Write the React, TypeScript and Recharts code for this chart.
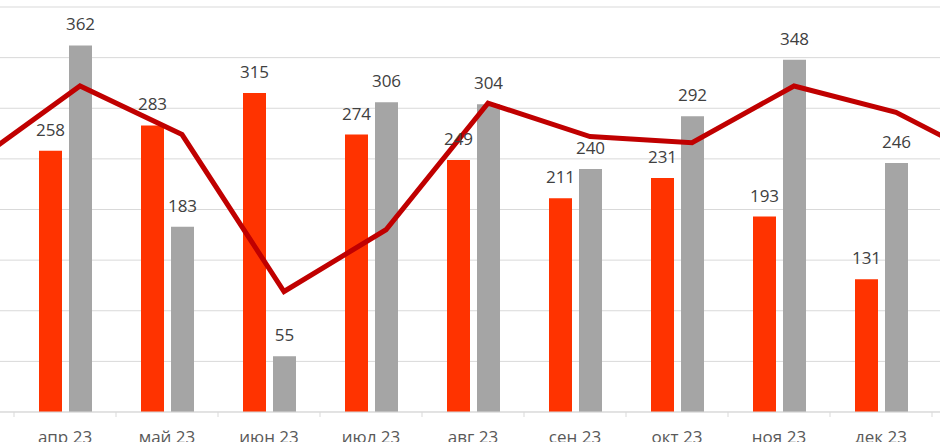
import React from "react";
import { ComposedChart, Bar, Line, XAxis, YAxis, CartesianGrid, LabelList } from "recharts";

// мар 23 и янв 24 выходят за края кадра, видна только линия
const months = ["мар 23", "апр 23", "май 23", "июн 23", "июл 23", "авг 23", "сен 23", "окт 23", "ноя 23", "дек 23", "янв 24"];
const redValues = [null, 258, 283, 315, 274, 249, 211, 231, 193, 131, null];
const grayValues = [null, 362, 183, 55, 306, 304, 240, 292, 348, 246, null];
const lineValues = [249, 322, 274, 119, 180, 305, 272, 266, 322, 296, 244];
const yTicks = [0, 50, 100, 150, 200, 250, 300, 350, 400];

const data = months.map((m, i) => ({
  month: m,
  red: redValues[i],
  gray: grayValues[i],
  trend: lineValues[i],
}));

const FONT = "'Open Sans', sans-serif";
const TICK_MARGIN = 19;

function MonthTick(props: any) {
  const { x, y, payload, width, visibleTicksCount } = props;
  const half = payload && payload.offset ? payload.offset : width / visibleTicksCount / 2;
  const bx = x - half;
  return (
    <g>
      <line x1={bx} x2={bx} y1={y - TICK_MARGIN} y2={y - TICK_MARGIN + 5} stroke="#d9d9d9" strokeWidth={1} />
      <text x={x} y={y} dy="0.71em" textAnchor="middle" fill="#595959" fontSize={17} fontFamily={FONT}>
        {payload.value}
      </text>
    </g>
  );
}

export default function App() {
  return (
    <div style={{ position: "fixed", left: 0, top: 0, width: 940, height: 442, overflow: "hidden", background: "#fff" }}>
      <div style={{ position: "absolute", left: -88, top: 0 }}>
        <ComposedChart
          width={1122}
          height={442}
          data={data}
          margin={{ top: 7, right: 0, bottom: 0, left: 0 }}
          barSize={23}
          barGap={7}
        >
          <CartesianGrid vertical={false} stroke="#d9d9d9" strokeWidth={1} />
          <XAxis
            dataKey="month"
            height={30}
            axisLine={{ stroke: "#d9d9d9" }}
            tickLine={false}
            tickSize={0}
            tickMargin={TICK_MARGIN}
            interval={0}
            tick={<MonthTick />}
          />
          <XAxis xAxisId="shift" dataKey="month" hide padding={{ left: 15, right: -15 }} />
          <YAxis hide domain={[0, 400]} ticks={yTicks} />
          <Bar dataKey="red" fill="#ff3300" isAnimationActive={false}>
            <LabelList dataKey="red" position="top" offset={15} fill="#404040" fontSize={17} fontFamily={FONT} />
          </Bar>
          <Bar dataKey="gray" fill="#a5a5a5" isAnimationActive={false}>
            <LabelList dataKey="gray" position="top" offset={15} fill="#404040" fontSize={17} fontFamily={FONT} />
          </Bar>
          <Line
            xAxisId="shift"
            dataKey="trend"
            type="linear"
            stroke="#c00000"
            strokeWidth={5}
            dot={false}
            activeDot={false}
            isAnimationActive={false}
          />
        </ComposedChart>
      </div>
    </div>
  );
}
